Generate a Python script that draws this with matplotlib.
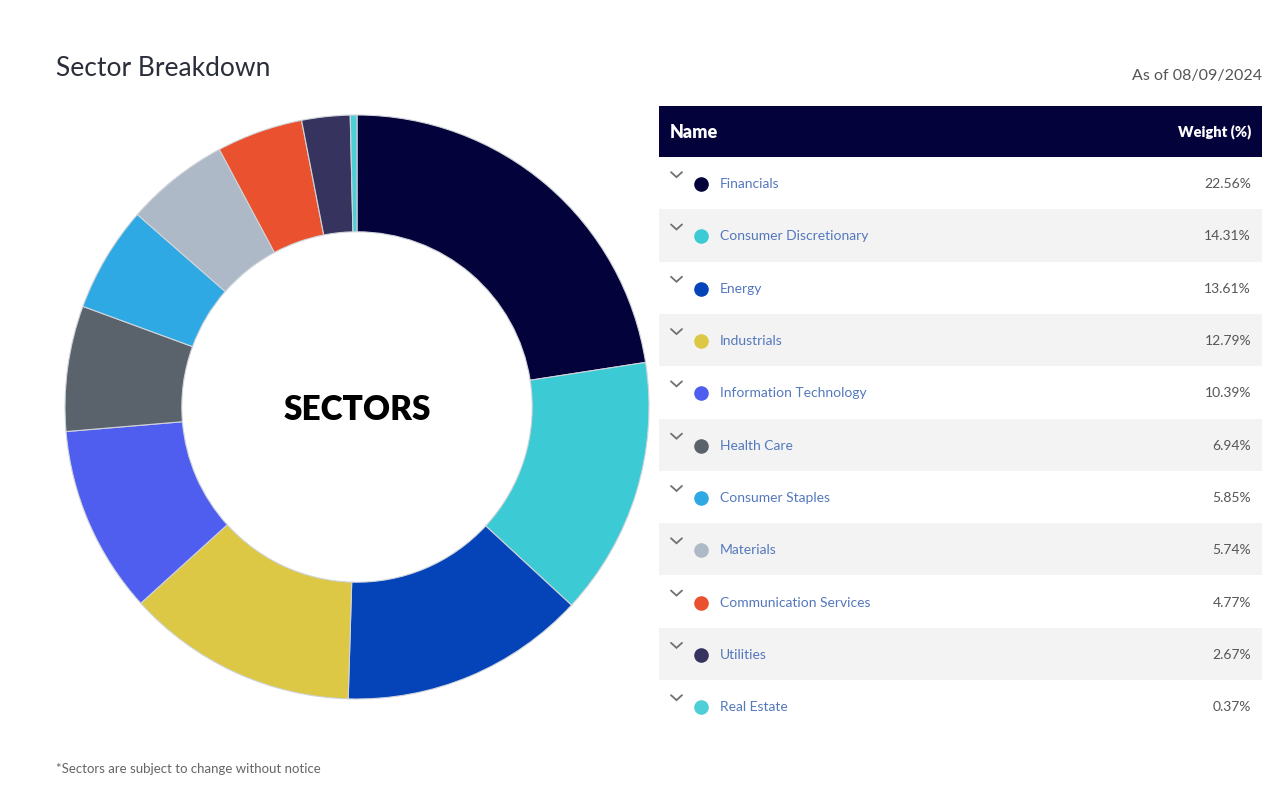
import matplotlib.pyplot as plt
from matplotlib.patches import Rectangle

sectors = ['Financials', 'Consumer Discretionary', 'Energy', 'Industrials',
           'Information Technology', 'Health Care', 'Consumer Staples',
           'Materials', 'Communication Services', 'Utilities', 'Real Estate']
weights = [22.56, 14.31, 13.61, 12.79, 10.39, 6.94, 5.85, 5.74, 4.77, 2.67, 0.37]
colors = ['#03023a', '#3ccad4', '#0544b8', '#dcc844', '#4f5eef', '#5a636c',
          '#2fa9e4', '#adb9c6', '#ea512e', '#36335e', '#4ecfd6']

W, H = 1280, 790
fig = plt.figure(figsize=(W / 100, H / 100), dpi=100)
fig.patch.set_facecolor('white')

# donut, centre at (357, 407) px, outer radius 292 px
cx, cy, r = 357, 407, 292
pax = fig.add_axes([(cx - r) / W, (H - cy - r) / H, 2 * r / W, 2 * r / H])
pax.pie(weights, colors=colors, startangle=90, counterclock=False, radius=1,
        wedgeprops=dict(width=0.4, edgecolor='#d0d4da', linewidth=0.8))
pax.set_xlim(-1, 1)
pax.set_ylim(-1, 1)
pax.set_aspect('equal')
pax.text(0, -0.01, 'SECTORS', ha='center', va='center', fontsize=24,
         fontweight='heavy', family='Lato', color='black')

# overlay axes in pixel coordinates for the table and text
ax = fig.add_axes([0, 0, 1, 1], zorder=-1)
ax.set_xlim(0, W)
ax.set_ylim(H, 0)
ax.axis('off')

ax.text(56, 69, 'Sector Breakdown', fontsize=19, family='Lato',
        color='#2a2d3a', va='center', ha='left')
ax.text(1262, 76, 'As of 08/09/2024', fontsize=11.5, family='Lato',
        color='#555555', va='center', ha='right')
ax.text(56, 769, '*Sectors are subject to change without notice', fontsize=9.5,
        family='Lato', color='#666666', va='center', ha='left')

# table
tx0, tx1 = 659, 1262
head_top, head_bot = 106, 157
row_h = 52.3
ax.add_patch(Rectangle((tx0, head_top), tx1 - tx0, head_bot - head_top,
                       facecolor='#04023a', edgecolor='none'))
ax.text(670, 132, 'Name', fontsize=13, fontweight='heavy', family='Lato',
        color='white', va='center', ha='left')
ax.text(1251, 132, 'Weight (%)', fontsize=10.5, fontweight='heavy', family='Lato',
        color='white', va='center', ha='right')

for i, (name, w, c) in enumerate(zip(sectors, weights, colors)):
    top = head_bot + i * row_h
    mid = top + row_h / 2
    if i % 2 == 1:
        ax.add_patch(Rectangle((tx0, top), tx1 - tx0, row_h,
                               facecolor='#f3f3f3', edgecolor='none'))
    # chevron
    ax.plot([671, 676.5, 682], [mid - 11, mid - 6, mid - 11], color='#707070',
            lw=1.3, solid_capstyle='round', solid_joinstyle='miter')
    ax.scatter([701], [mid + 1], s=90, color=c, zorder=3)
    ax.text(720, mid + 1, name, fontsize=10, family='Lato', color='#5478bd',
            va='center', ha='left')
    ax.text(1251, mid + 1, f'{w:.2f}%', fontsize=10, family='Lato',
            color='#555555', va='center', ha='right')

fig.savefig('out.png', dpi=100, facecolor='white')
